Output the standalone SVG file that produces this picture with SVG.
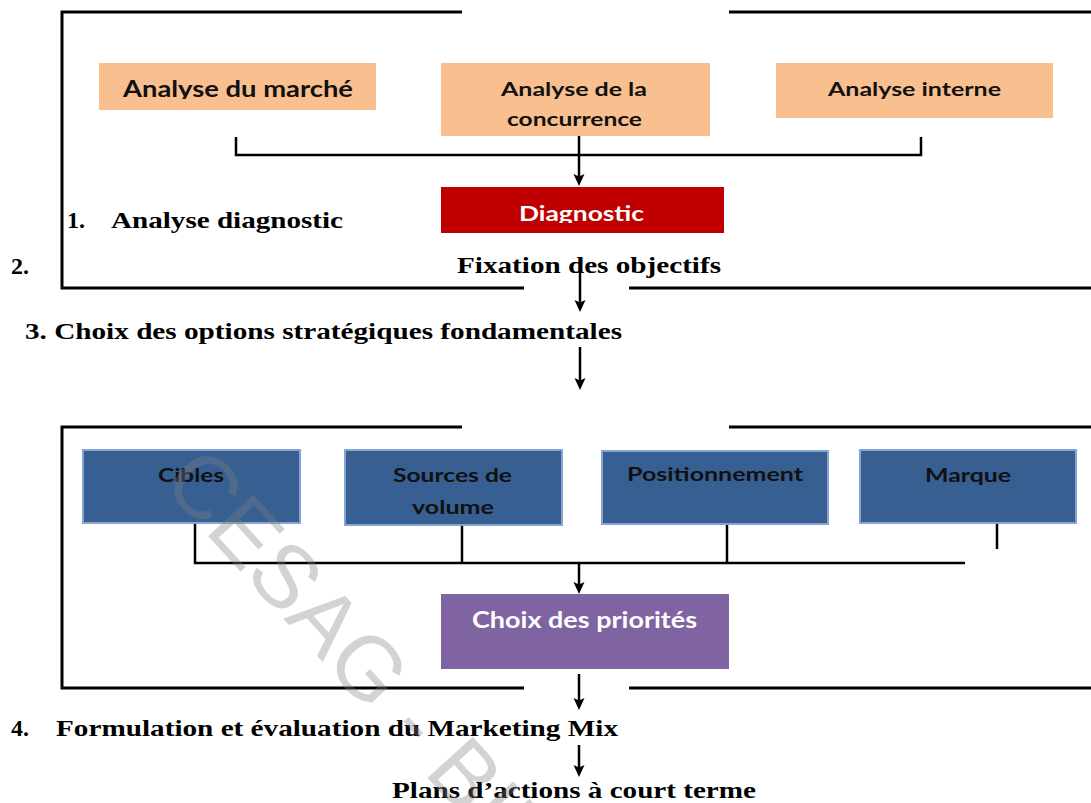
<svg xmlns="http://www.w3.org/2000/svg" width="1091" height="803" viewBox="0 0 1091 803">
  <defs>
    <style>
      .frame { fill: none; stroke: #000; stroke-width: 3; }
      .conn { fill: none; stroke: #000; stroke-width: 2.5; }
      .peach { fill: #F9BF8F; }
      .blue { fill: #375F92; stroke: #86A6D2; stroke-width: 2; }
      .red { fill: #C00000; }
      .purple { fill: #8064A2; }
      .sans { font-family: Lato, "Open Sans", "Liberation Sans", sans-serif; font-weight: 700; }
      .serif { font-family: "Liberation Serif", "Times New Roman", serif; font-weight: 700; fill: #000; }
      .dark { fill: #111; }
      .white { fill: #fff; }
      .mark { font-family: "Liberation Sans", Arial, sans-serif; font-size: 89px; fill: #808080; fill-opacity: 0.35; }
    </style>
    <marker id="arrow" markerUnits="userSpaceOnUse" viewBox="0 0 12 12" markerWidth="12" markerHeight="12" refX="8" refY="6" orient="auto">
      <path d="M0,0.5 L12,6 L0,11.5 L2.5,6 Z" fill="#000"/>
    </marker>
    <clipPath id="clipMarche"><rect x="99" y="63" width="277" height="36"/></clipPath>
    <clipPath id="clipDiag"><rect x="441" y="187" width="283" height="36"/></clipPath>
    <clipPath id="clipMarque"><rect x="860" y="450" width="216" height="35"/></clipPath>
  </defs>

  <!-- frames around the two stages -->
  <g id="frames">
    <path class="frame" d="M462,12 H62 V288 H524"/>
    <path class="frame" d="M729,12 H1091"/>
    <path class="frame" d="M629,288 H1091"/>
    <path class="frame" d="M462,427 H62 V688 H524"/>
    <path class="frame" d="M729,427 H1091"/>
    <path class="frame" d="M629,688 H1091"/>
  </g>

  <!-- connectors -->
  <g id="connectors">
    <path class="conn" d="M236,137 V155 H921 V137"/>
    <line class="conn" x1="579" y1="136" x2="579" y2="182" marker-end="url(#arrow)"/>
    <line class="conn" x1="580" y1="264" x2="580" y2="308" marker-end="url(#arrow)"/>
    <line class="conn" x1="580" y1="347" x2="580" y2="386" marker-end="url(#arrow)"/>
    <path class="conn" d="M195,523 V563 H965"/>
    <line class="conn" x1="462" y1="525" x2="462" y2="563"/>
    <line class="conn" x1="727" y1="524" x2="727" y2="563"/>
    <line class="conn" x1="997" y1="524" x2="997" y2="549"/>
    <line class="conn" x1="579" y1="563" x2="579" y2="590" marker-end="url(#arrow)"/>
    <line class="conn" x1="579" y1="674" x2="579" y2="706" marker-end="url(#arrow)"/>
    <line class="conn" x1="579" y1="745" x2="579" y2="773" marker-end="url(#arrow)"/>
  </g>

  <!-- stage 1: analysis -->
  <g id="analyse-marche">
    <rect class="peach" x="99" y="63" width="277" height="47"/>
    <text class="sans dark" x="123" y="97" font-size="22" textLength="230" lengthAdjust="spacingAndGlyphs" clip-path="url(#clipMarche)">Analyse du marché</text>
  </g>
  <g id="analyse-concurrence">
    <rect class="peach" x="441" y="63" width="269" height="73"/>
    <text class="sans dark" x="501" y="96" font-size="19" textLength="146" lengthAdjust="spacingAndGlyphs">Analyse de la</text>
    <text class="sans dark" x="507" y="126" font-size="19" textLength="135" lengthAdjust="spacingAndGlyphs">concurrence</text>
  </g>
  <g id="analyse-interne">
    <rect class="peach" x="776" y="63" width="277" height="55"/>
    <text class="sans dark" x="828" y="96" font-size="19" textLength="173" lengthAdjust="spacingAndGlyphs">Analyse interne</text>
  </g>
  <g id="diagnostic">
    <rect class="red" x="441" y="187" width="283" height="46"/>
    <text class="sans white" x="519" y="221" font-size="20" textLength="125" lengthAdjust="spacingAndGlyphs" clip-path="url(#clipDiag)">Diagnostic</text>
  </g>

  <!-- step labels -->
  <g id="step-labels">
    <text class="serif" x="67" y="228" font-size="24">1.</text>
    <text class="serif" x="111" y="228" font-size="24" textLength="232" lengthAdjust="spacingAndGlyphs">Analyse diagnostic</text>
    <text class="serif" x="11" y="274" font-size="24">2.</text>
    <text class="serif" x="457" y="273" font-size="24" textLength="264" lengthAdjust="spacingAndGlyphs">Fixation des objectifs</text>
    <text class="serif" x="25" y="339" font-size="24" textLength="597" lengthAdjust="spacingAndGlyphs">3. Choix des options stratégiques fondamentales</text>
    <text class="serif" x="11" y="736" font-size="24">4.</text>
    <text class="serif" x="56" y="736" font-size="24" textLength="562" lengthAdjust="spacingAndGlyphs">Formulation et évaluation du Marketing Mix</text>
    <text class="serif" x="392" y="798" font-size="24" textLength="364" lengthAdjust="spacingAndGlyphs">Plans d’actions à court terme</text>
  </g>

  <!-- stage 3: strategic options -->
  <g id="cibles">
    <rect class="blue" x="83" y="450" width="217" height="73"/>
    <text class="sans dark" x="158" y="482" font-size="19" textLength="66" lengthAdjust="spacingAndGlyphs">Cibles</text>
  </g>
  <g id="sources-volume">
    <rect class="blue" x="345" y="450" width="217" height="75"/>
    <text class="sans dark" x="393" y="482" font-size="19" textLength="119" lengthAdjust="spacingAndGlyphs">Sources de</text>
    <text class="sans dark" x="412" y="514" font-size="19" textLength="82" lengthAdjust="spacingAndGlyphs">volume</text>
  </g>
  <g id="positionnement">
    <rect class="blue" x="602" y="451" width="226" height="73"/>
    <text class="sans dark" x="627" y="481" font-size="19" textLength="176" lengthAdjust="spacingAndGlyphs">Positionnement</text>
  </g>
  <g id="marque">
    <rect class="blue" x="860" y="450" width="216" height="73"/>
    <text class="sans dark" x="925" y="482" font-size="19" textLength="86" lengthAdjust="spacingAndGlyphs" clip-path="url(#clipMarque)">Marque</text>
  </g>
  <g id="choix-priorites">
    <rect class="purple" x="441" y="594" width="288" height="75"/>
    <text class="sans white" x="472" y="628" font-size="22" textLength="225" lengthAdjust="spacingAndGlyphs">Choix des priorités</text>
  </g>

  <!-- watermark -->
  <text class="mark" transform="translate(160,483) rotate(47.8)">CESAG - BIBLIOTHEQUE</text>
</svg>
